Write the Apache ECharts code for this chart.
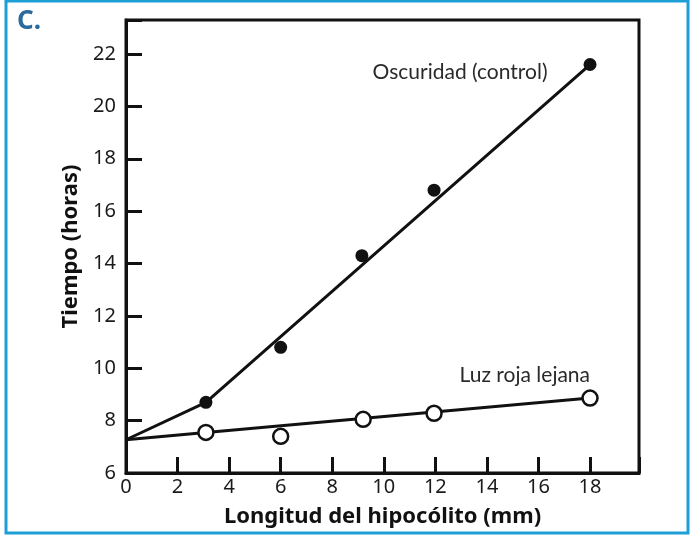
<!DOCTYPE html>
<html><head><meta charset="utf-8">
<script src="https://cdn.jsdelivr.net/npm/echarts@6/dist/echarts.min.js"></script>
<style>html,body{margin:0;padding:0;background:#fff}#c{width:700px;height:536px}</style>
</head><body><div id="c"></div>
<script>
// Data
const darkX = [3.1, 6.0, 9.15, 11.95, 18.0];
const darkY = [8.7, 10.8, 14.3, 16.8, 21.6];
const lightX = [3.1, 6.0, 9.2, 11.95, 18.0];
const lightY = [7.55, 7.4, 8.05, 8.28, 8.86];
// fitted lines as drawn in the figure
const darkFitX = [0, 3.1, 18.0];
const darkFitY = [7.27, 8.7, 21.6];
const lightFitX = [0, 3.1, 18.0];
const lightFitY = [7.27, 7.55, 8.86];
const xTickLabels = [0, 2, 4, 6, 8, 10, 12, 14, 16, 18];
const yTickLabels = [6, 8, 10, 12, 14, 16, 18, 20, 22];
const darkName = 'Oscuridad (control)';
const lightName = 'Luz roja lejana';
const xTitle = 'Longitud del hipocólito (mm)';
const yTitle = 'Tiempo (horas)';
const panelLabel = 'C.';

const pairs = (xs, ys) => xs.map((x, i) => [x, ys[i]]);
const darkData = pairs(darkX, darkY).map(v => ({value: v}));
const lightData = pairs(lightX, lightY).map(v => ({value: v}));
darkData[darkData.length - 1].label = {
  show: true, formatter: darkName, position: 'left', distance: 36, offset: [0, 8],
  color: '#2a2a2a', fontSize: 21, fontFamily: 'Lato'
};
lightData[lightData.length - 1].label = {
  show: true, formatter: lightName, position: 'top', align: 'right', distance: 4, offset: [0, 0],
  color: '#2a2a2a', fontSize: 21, fontFamily: 'Lato'
};

const tickFont = {color: '#1a1a1a', fontSize: 20, fontFamily: 'Noto Sans'};
const nameFont = {color: '#111', fontSize: 22, fontWeight: 'bold', fontFamily: 'Noto Sans'};
const chart = echarts.init(document.getElementById('c'));
chart.setOption({
  animation: false,
  backgroundColor: '#fff',
  graphic: [
    {type: 'rect', shape: {x: 6, y: 1, width: 682, height: 532}, style: {fill: 'none', stroke: '#1c9fd6', lineWidth: 3}},
    {type: 'text', left: 17, top: 9, style: {text: panelLabel, fill: '#2b6a9c', font: 'bold 26px "Noto Sans"'}}
  ],
  grid: {left: 126, top: 20, right: 61, bottom: 63, show: true, borderColor: '#111', borderWidth: 3},
  xAxis: {
    type: 'value', min: 0, max: 19.9, interval: 2,
    name: xTitle, nameLocation: 'middle', nameGap: 33, nameTextStyle: nameFont,
    axisLine: {show: true, lineStyle: {color: '#111', width: 3}},
    axisTick: {show: true, inside: true, length: 16, lineStyle: {color: '#111', width: 3}},
    axisLabel: Object.assign({margin: 4, formatter: v => xTickLabels.includes(v) ? String(v) : ''}, tickFont),
    splitLine: {show: false}
  },
  yAxis: {
    type: 'value', min: 6, max: 23.3, interval: 2,
    name: yTitle, nameLocation: 'middle', nameGap: 44, nameRotate: 90, nameTextStyle: nameFont,
    axisLine: {show: true, lineStyle: {color: '#111', width: 3}},
    axisTick: {show: true, inside: true, length: 16, lineStyle: {color: '#111', width: 3}},
    axisLabel: Object.assign({margin: 10, formatter: v => yTickLabels.includes(v) ? String(v) : ''}, tickFont),
    splitLine: {show: false}
  },
  series: [
    {type: 'line', data: pairs(darkFitX, darkFitY), showSymbol: false, symbol: 'none',
     lineStyle: {color: '#111', width: 3}, z: 2, silent: true},
    {type: 'line', data: pairs(lightFitX, lightFitY), showSymbol: false, symbol: 'none',
     lineStyle: {color: '#111', width: 3}, z: 2, silent: true},
    {type: 'scatter', name: darkName, data: darkData, symbol: 'circle', symbolSize: 13,
     itemStyle: {color: '#111', opacity: 1}, z: 5},
    {type: 'scatter', name: lightName, data: lightData, symbol: 'circle', symbolSize: 15,
     itemStyle: {color: '#fff', borderColor: '#111', borderWidth: 2.5, opacity: 1}, z: 5}
  ]
});
</script></body></html>
